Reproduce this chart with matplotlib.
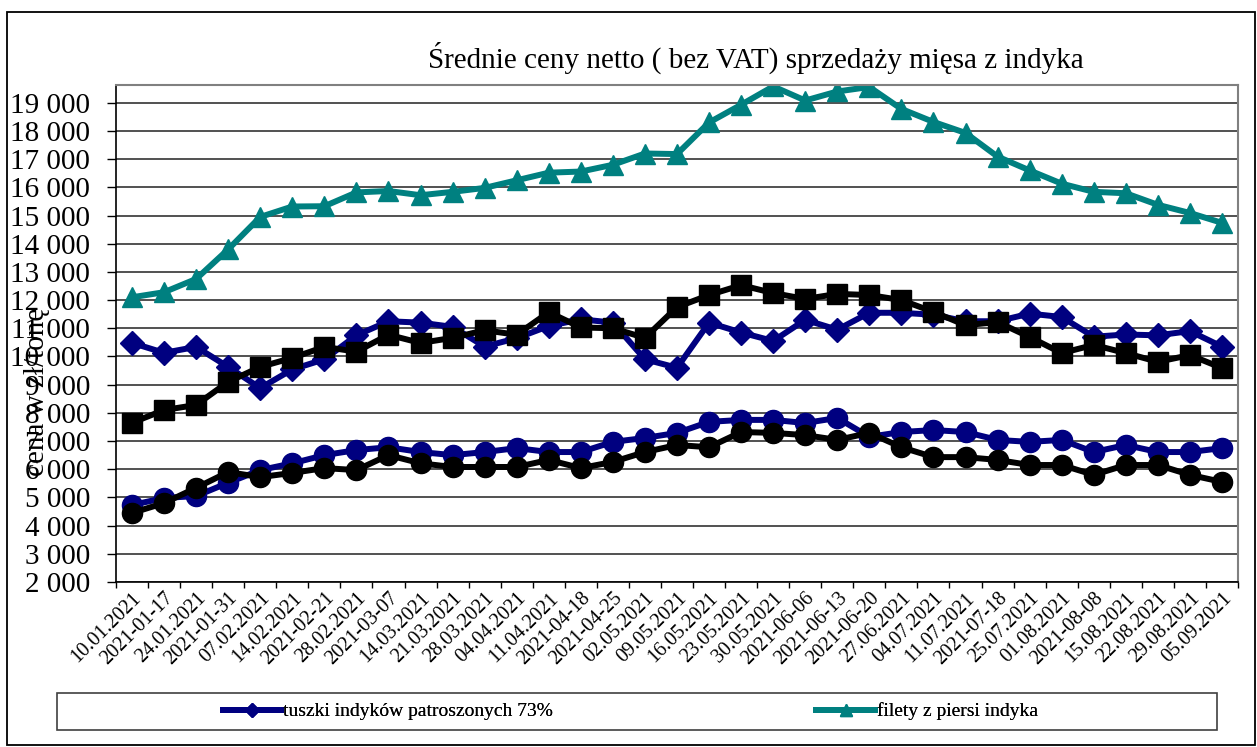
import matplotlib
matplotlib.use("Agg")
import matplotlib.pyplot as plt
from matplotlib.patches import Rectangle
from matplotlib.ticker import FuncFormatter, FixedLocator
import numpy as np

plt.rcParams["font.family"] = ["Liberation Serif", "DejaVu Serif"]

dates = ["10.01.2021", "2021-01-17", "24.01.2021", "2021-01-31", "07.02.2021",
         "14.02.2021", "2021-02-21", "28.02.2021", "2021-03-07", "14.03.2021",
         "21.03.2021", "28.03.2021", "04.04.2021", "11.04.2021", "2021-04-18",
         "2021-04-25", "02.05.2021", "09.05.2021", "16.05.2021", "23.05.2021",
         "30.05.2021", "2021-06-06", "2021-06-13", "2021-06-20", "27.06.2021",
         "04.07.2021", "11.07.2021", "2021-07-18", "25.07.2021", "01.08.2021",
         "2021-08-08", "15.08.2021", "22.08.2021", "29.08.2021", "05.09.2021"]

# tuszki indyków patroszonych 73% (navy diamonds)
tuszki = [10480, 10130, 10340, 9630, 8880, 9540, 9900, 10750, 11250, 11200,
          11050, 10350, 10650, 11080, 11320, 11200, 9900, 9600, 11200, 10850,
          10550, 11300, 10950, 11550, 11550, 11480, 11250, 11250, 11520, 11400,
          10700, 10780, 10750, 10900, 10350]
# filety z piersi indyka (teal triangles)
filety = [12100, 12280, 12750, 13800, 14950, 15320, 15330, 15820, 15870, 15720,
          15840, 15980, 16250, 16520, 16560, 16800, 17200, 17180, 18300, 18930,
          19580, 19080, 19400, 19560, 18780, 18320, 17930, 17090, 16600, 16130,
          15840, 15790, 15380, 15090, 14740]
# black squares
czarne_kw = [7650, 8100, 8280, 9100, 9630, 9950, 10340, 10170, 10770, 10480,
             10660, 10930, 10770, 11570, 11030, 11000, 10660, 11750, 12180, 12530,
             12250, 12040, 12220, 12180, 12000, 11580, 11110, 11220, 10690, 10120,
             10410, 10120, 9810, 10050, 9590]
# navy circles
niebieskie_kolo = [4730, 4980, 5050, 5520, 5970, 6210, 6500, 6680, 6780, 6610,
                   6500, 6610, 6750, 6610, 6610, 6970, 7110, 7290, 7680, 7750,
                   7750, 7640, 7820, 7150, 7320, 7390, 7320, 7040, 6970, 7040,
                   6610, 6860, 6610, 6610, 6750]
# black circles
czarne_kolo = [4450, 4800, 5340, 5900, 5720, 5870, 6040, 5970, 6500, 6210,
               6080, 6080, 6080, 6330, 6040, 6260, 6610, 6860, 6780, 7320,
               7290, 7210, 7040, 7290, 6780, 6430, 6430, 6330, 6150, 6150,
               5800, 6150, 6150, 5800, 5550]

NAVY = "#000080"
TEAL = "#008080"

W, H = 1257, 747
fig = plt.figure(figsize=(W / 100, H / 100), dpi=100)
ax = fig.add_axes([116 / W, 1 - 582 / H, (1238 - 116) / W, (582 - 85) / H])

x = np.arange(len(dates))
lw = 4.3
l1, = ax.plot(x, tuszki, color=NAVY, lw=lw, marker="D", ms=12,
              label="tuszki indyków patroszonych 73%")
l2, = ax.plot(x, filety, color=TEAL, lw=lw, marker="^", ms=15,
              label="filety z piersi indyka")
ax.plot(x, czarne_kw, color="black", lw=lw, marker="s", ms=14.5)
ax.plot(x, niebieskie_kolo, color=NAVY, lw=lw, marker="o", ms=14.5)
ax.plot(x, czarne_kolo, color="black", lw=lw, marker="o", ms=14.5)

ax.set_xlim(-0.5, len(dates) - 0.5)
ax.set_ylim(2000, 19630)
ax.set_yticks(np.arange(2000, 19001, 1000))
ax.yaxis.set_major_formatter(FuncFormatter(lambda v, p: f"{v:,.0f}".replace(",", " ")))
ax.yaxis.grid(True, color="#222222", lw=1.1)
ax.set_axisbelow(True)

ax.set_xticks(x)
ax.set_xticklabels(dates, rotation=45, ha="right", va="top",
                   rotation_mode="anchor", fontsize=14.5)
ax.xaxis.set_minor_locator(FixedLocator(np.arange(-0.5, len(dates), 1)))
ax.tick_params(axis="x", which="major", length=0, pad=5)
ax.tick_params(axis="x", which="minor", length=4.5, width=1, direction="out")
ax.tick_params(axis="y", length=6.5, width=1, direction="out", pad=12,
               labelsize=21)

for side in ("top", "right"):
    ax.spines[side].set_color("#808080")
    ax.spines[side].set_linewidth(1.5)
for side in ("left", "bottom"):
    ax.spines[side].set_color("black")
    ax.spines[side].set_linewidth(1.2)

fig.text(37 / W, 1 - 392 / H, "cena w zł/tonę", rotation=90,
         ha="center", va="center", fontsize=21)
fig.text(756 / W, 1 - 58 / H,
         "Średnie ceny netto ( bez VAT) sprzedaży mięsa z indyka",
         ha="center", va="center", fontsize=21)

# legend box (only first row visible, as in the source)
fig.patches.append(Rectangle((57 / W, 1 - 730 / H), (1217 - 57) / W, 37 / H,
                             transform=fig.transFigure, fill=False,
                             edgecolor="#404040", lw=1.2))
for handle, cx in ((l1, 388), (l2, 927)):
    leg = fig.legend(handles=[handle], loc="center",
                     bbox_to_anchor=(cx / W, 1 - 711.5 / H), frameon=False,
                     fontsize=14, handlelength=3.0, handletextpad=0.1,
                     markerscale=0.6)
    fig.add_artist(leg)

# outer border
fig.patches.append(Rectangle((7 / W, 1 - 745 / H), (1255 - 7) / W, (745 - 12) / H,
                             transform=fig.transFigure, fill=False,
                             edgecolor="black", lw=1.3))

fig.savefig("out.png", dpi=100)
